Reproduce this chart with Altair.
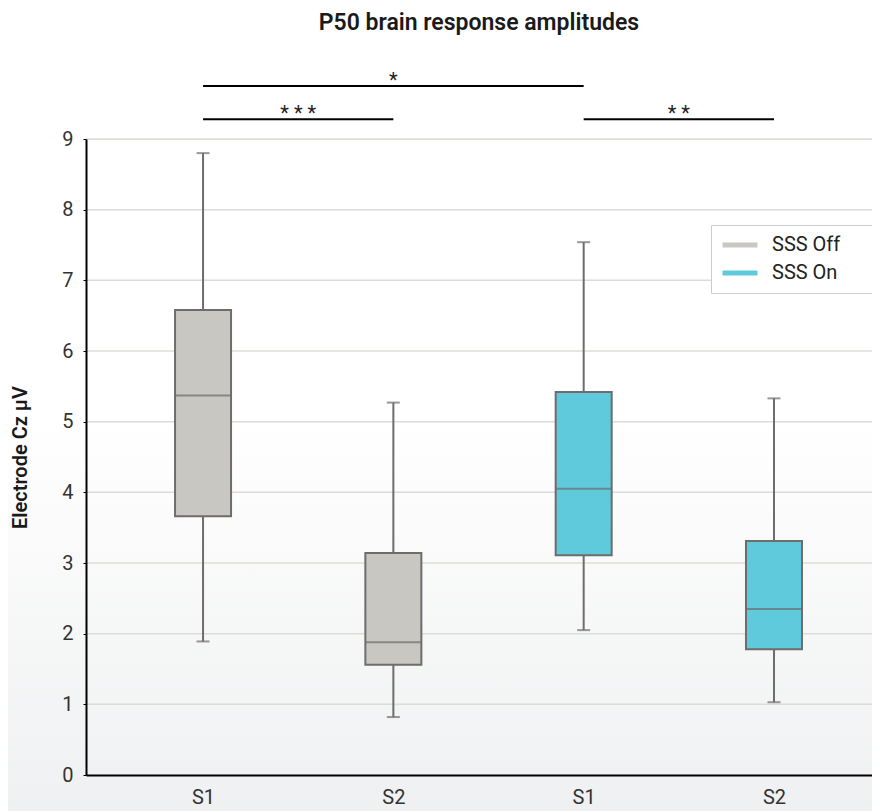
import altair as alt
import pandas as pd

# ---- data ----
positions = [0, 1, 2, 3]
sessions = ["S1", "S2", "S1", "S2"]
conditions = ["SSS Off", "SSS Off", "SSS On", "SSS On"]
mins = [1.89, 0.82, 2.05, 1.03]
q1s = [3.66, 1.56, 3.11, 1.78]
medians = [5.37, 1.88, 4.05, 2.35]
q3s = [6.58, 3.14, 5.42, 3.31]
maxs = [8.80, 5.27, 7.54, 5.33]

grid_values = [1, 2, 3, 4, 5, 6, 7, 8, 9]

sig_from = [0, 0, 2]
sig_to = [2, 1, 3]
sig_level = [9.75, 9.28, 9.28]
sig_label = ["*", "* * *", "* *"]

box_df = pd.DataFrame({
    "pos": positions, "session": sessions, "condition": conditions,
    "min": mins, "q1": q1s, "median": medians, "q3": q3s, "max": maxs,
})
sig_df = pd.DataFrame({"x1": sig_from, "x2": sig_to, "y": sig_level, "label": sig_label})
grid_df = pd.DataFrame({"g": grid_values})

W, H = 786, 636
FONT = "Roboto"
STROKE = "#6e6c6c"

xscale = alt.Scale(domain=[-0.615, 3.515], nice=False, zero=False, padding=0)
yscale = alt.Scale(domain=[0, 9], nice=False, padding=0)

base = alt.Chart(box_df)

xaxis = alt.Axis(values=positions, labelExpr="['S1','S2','S1','S2'][datum.value]",
                 title=None, grid=False, ticks=False, domain=True, domainColor="black",
                 domainWidth=2, labelFontSize=20, labelColor="#333333", labelFont=FONT,
                 labelPadding=12, zindex=2)
yaxis = alt.Axis(values=list(range(0, 10)), format="d", title="Electrode Cz µV", titleFont=FONT,
                 titleFontSize=20, titleFontWeight=600, titleColor="#1a1a1a", titlePadding=31,
                 grid=False, domainColor="black",
                 domainWidth=2, tickColor="black", tickSize=3, labelFontSize=20,
                 labelColor="#333333", labelFont=FONT, labelPadding=10, zindex=2)

# background gradient (lower part of the chart fades to light grey)
bg = alt.Chart(pd.DataFrame({"a": [0]})).mark_rect(
    clip=False,
    color=alt.Gradient(gradient="linear", x1=0, y1=0, x2=0, y2=1,
                       stops=[alt.GradientStop(color="#ffffff", offset=0),
                              alt.GradientStop(color="#eff0f1", offset=1)])
).encode(x=alt.value(-78), x2=alt.value(W), y=alt.value(280), y2=alt.value(H + 40))

grid = alt.Chart(grid_df).mark_rule(color="#dcdcd8", strokeWidth=1.5).encode(
    y=alt.Y("g:Q", scale=yscale))

whisk_lo = base.mark_rule(color=STROKE, strokeWidth=2).encode(
    x=alt.X("pos:Q", scale=xscale, axis=xaxis),
    y=alt.Y("min:Q", scale=yscale, axis=yaxis), y2="q1:Q")
whisk_hi = base.mark_rule(color=STROKE, strokeWidth=2).encode(
    x="pos:Q", y="q3:Q", y2="max:Q")
cap_lo = base.mark_tick(color=STROKE, size=13, thickness=2, orient="horizontal").encode(
    x="pos:Q", y="min:Q")
cap_hi = base.mark_tick(color=STROKE, size=13, thickness=2, orient="horizontal").encode(
    x="pos:Q", y="max:Q")

# trailing non-breaking spaces (kept by a zero-width char) widen the legend frame
pad_str = "\u00a0" * 6 + "\u200b"
boxes = base.mark_bar(size=56, stroke=STROKE, strokeWidth=2, opacity=1).encode(
    x="pos:Q", y="q1:Q", y2="q3:Q",
    color=alt.Color("condition:N",
                    scale=alt.Scale(domain=["SSS Off", "SSS On"], range=["#c8c7c2", "#5fcadc"]),
                    legend=alt.Legend(title=None, orient="none", legendX=625, legendY=86,
                                      symbolType="M-2,-0.3H2V0.3H-2Z", symbolSize=306,
                                      symbolStrokeWidth=0, symbolOffset=9,
                                      labelFontSize=20, labelFont=FONT, labelLimit=300,
                                      labelColor="#222222", labelOffset=22, padding=10,
                                      rowPadding=8, strokeColor="#cccccc", fillColor="#ffffff",
                                      labelExpr="datum.label + '" + pad_str + "'",
                                      symbolOpacity=1)))
med = base.mark_tick(color=STROKE, size=56, thickness=2, orient="horizontal").encode(
    x="pos:Q", y="median:Q")

sig_rule = alt.Chart(sig_df).mark_rule(color="black", strokeWidth=2, clip=False).encode(
    x="x1:Q", x2="x2:Q", y="y:Q")
sig_text = alt.Chart(sig_df).transform_calculate(xm="(datum.x1 + datum.x2) / 2").mark_text(
    font=FONT, fontSize=20, color="#222222", dy=-5, clip=False).encode(
    x="xm:Q", y="y:Q", text="label:N")

chart = alt.layer(bg, grid, whisk_lo, whisk_hi, cap_lo, cap_hi, boxes, med, sig_rule, sig_text).properties(
    width=W, height=H,
    title=alt.TitleParams("P50 brain response amplitudes", font=FONT, fontSize=23,
                          fontWeight=600, color="#1a1a1a", anchor="middle", offset=36),
    autosize=alt.AutoSizeParams(type="none"),
    padding={"left": 78, "top": 131, "right": 0, "bottom": 36},
).configure_view(stroke=None).configure(background="#ffffff")

chart.save("out.html", embed_options={"renderer": "svg", "actions": False})
